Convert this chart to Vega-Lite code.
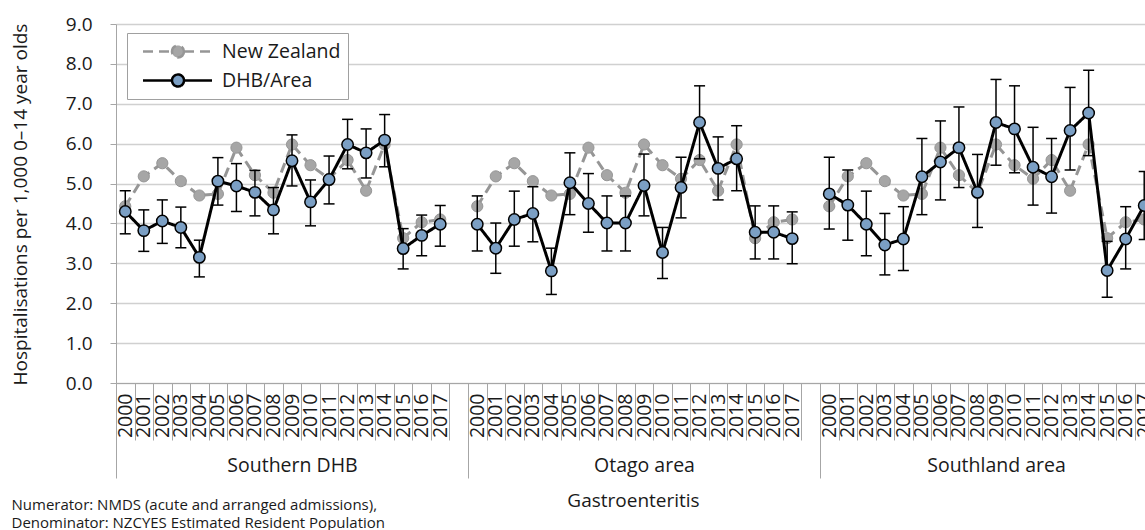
{
  "$schema": "https://vega.github.io/schema/vega-lite/v6.json",
  "autosize": {"type": "none"},
  "padding": {"left": 116, "top": 24, "right": 0, "bottom": 147},
  "width": 1056,
  "height": 359,
  "config": {
    "font": "Open Sans",
    "view": {"stroke": null},
    "legend": {"labelFontSize": 19.5, "labelColor": "#1a1a1a"}
  },
  "resolve": {"scale": {"x": "independent"}, "axis": {"x": "independent"}},
  "layer": [
    {
      "data": {"values": [{"g": "Southern DHB"}, {"g": "Otago area"}, {"g": "Southland area"}]},
      "mark": {"type": "rule", "opacity": 0},
      "encoding": {
        "x": {
          "field": "g", "type": "nominal", "sort": null,
          "scale": {"type": "band", "domain": ["Southern DHB", "Otago area", "Southland area"], "paddingInner": 0, "paddingOuter": 0},
          "axis": {
            "orient": "bottom", "domain": false, "ticks": true, "tickSize": 95, "tickBand": "extent",
            "tickColor": "#a6a6a6", "tickWidth": 1, "labelAngle": 0, "labelPadding": -22, "labelBaseline": "top",
            "labelFontSize": 19.5, "labelColor": "#1a1a1a", "labelOverlap": false, "labelBound": false,
            "title": ["Numerator: NMDS (acute and arranged admissions),", "Denominator: NZCYES Estimated Resident Population"],
            "titleX": -105, "titleY": 114, "titleAlign": "left", "titleBaseline": "top", "titleFontSize": 15,
            "titleLineHeight": 18, "titleFontWeight": "normal", "titleColor": "#1a1a1a", "titleAnchor": null
          }
        }
      }
    },
    {
      "data": {"values": [
        {"g":"Southern DHB","k":"Southern DHB|2000","New Zealand":4.43,"DHB/Area":4.30,"lo":3.74,"hi":4.82},
        {"g":"Southern DHB","k":"Southern DHB|2001","New Zealand":5.18,"DHB/Area":3.82,"lo":3.30,"hi":4.34},
        {"g":"Southern DHB","k":"Southern DHB|2002","New Zealand":5.51,"DHB/Area":4.06,"lo":3.50,"hi":4.59},
        {"g":"Southern DHB","k":"Southern DHB|2003","New Zealand":5.06,"DHB/Area":3.90,"lo":3.39,"hi":4.41},
        {"g":"Southern DHB","k":"Southern DHB|2004","New Zealand":4.70,"DHB/Area":3.15,"lo":2.66,"hi":3.58},
        {"g":"Southern DHB","k":"Southern DHB|2005","New Zealand":4.74,"DHB/Area":5.06,"lo":4.46,"hi":5.65},
        {"g":"Southern DHB","k":"Southern DHB|2006","New Zealand":5.90,"DHB/Area":4.94,"lo":4.30,"hi":5.50},
        {"g":"Southern DHB","k":"Southern DHB|2007","New Zealand":5.21,"DHB/Area":4.78,"lo":4.19,"hi":5.33},
        {"g":"Southern DHB","k":"Southern DHB|2008","New Zealand":4.77,"DHB/Area":4.34,"lo":3.74,"hi":4.90},
        {"g":"Southern DHB","k":"Southern DHB|2009","New Zealand":5.98,"DHB/Area":5.57,"lo":4.94,"hi":6.22},
        {"g":"Southern DHB","k":"Southern DHB|2010","New Zealand":5.46,"DHB/Area":4.54,"lo":3.94,"hi":5.09},
        {"g":"Southern DHB","k":"Southern DHB|2011","New Zealand":5.12,"DHB/Area":5.10,"lo":4.49,"hi":5.69},
        {"g":"Southern DHB","k":"Southern DHB|2012","New Zealand":5.59,"DHB/Area":5.98,"lo":5.37,"hi":6.61},
        {"g":"Southern DHB","k":"Southern DHB|2013","New Zealand":4.82,"DHB/Area":5.77,"lo":5.14,"hi":6.37},
        {"g":"Southern DHB","k":"Southern DHB|2014","New Zealand":5.98,"DHB/Area":6.09,"lo":5.42,"hi":6.73},
        {"g":"Southern DHB","k":"Southern DHB|2015","New Zealand":3.63,"DHB/Area":3.37,"lo":2.86,"hi":3.87},
        {"g":"Southern DHB","k":"Southern DHB|2016","New Zealand":4.03,"DHB/Area":3.70,"lo":3.19,"hi":4.21},
        {"g":"Southern DHB","k":"Southern DHB|2017","New Zealand":4.10,"DHB/Area":3.98,"lo":3.43,"hi":4.45},
        {"g":"Otago area","k":"Otago area|2000","New Zealand":4.43,"DHB/Area":3.98,"lo":3.31,"hi":4.69},
        {"g":"Otago area","k":"Otago area|2001","New Zealand":5.18,"DHB/Area":3.38,"lo":2.75,"hi":4.01},
        {"g":"Otago area","k":"Otago area|2002","New Zealand":5.51,"DHB/Area":4.10,"lo":3.43,"hi":4.81},
        {"g":"Otago area","k":"Otago area|2003","New Zealand":5.06,"DHB/Area":4.25,"lo":3.54,"hi":4.92},
        {"g":"Otago area","k":"Otago area|2004","New Zealand":4.70,"DHB/Area":2.81,"lo":2.22,"hi":3.38},
        {"g":"Otago area","k":"Otago area|2005","New Zealand":4.74,"DHB/Area":5.02,"lo":4.22,"hi":5.77},
        {"g":"Otago area","k":"Otago area|2006","New Zealand":5.90,"DHB/Area":4.50,"lo":3.78,"hi":5.25},
        {"g":"Otago area","k":"Otago area|2007","New Zealand":5.21,"DHB/Area":4.01,"lo":3.31,"hi":4.69},
        {"g":"Otago area","k":"Otago area|2008","New Zealand":4.77,"DHB/Area":4.01,"lo":3.31,"hi":4.69},
        {"g":"Otago area","k":"Otago area|2009","New Zealand":5.98,"DHB/Area":4.95,"lo":4.19,"hi":5.74},
        {"g":"Otago area","k":"Otago area|2010","New Zealand":5.46,"DHB/Area":3.27,"lo":2.62,"hi":3.90},
        {"g":"Otago area","k":"Otago area|2011","New Zealand":5.12,"DHB/Area":4.90,"lo":4.14,"hi":5.66},
        {"g":"Otago area","k":"Otago area|2012","New Zealand":5.59,"DHB/Area":6.53,"lo":5.62,"hi":7.45},
        {"g":"Otago area","k":"Otago area|2013","New Zealand":4.82,"DHB/Area":5.38,"lo":4.59,"hi":6.17},
        {"g":"Otago area","k":"Otago area|2014","New Zealand":5.98,"DHB/Area":5.62,"lo":4.82,"hi":6.45},
        {"g":"Otago area","k":"Otago area|2015","New Zealand":3.63,"DHB/Area":3.78,"lo":3.11,"hi":4.44},
        {"g":"Otago area","k":"Otago area|2016","New Zealand":4.03,"DHB/Area":3.78,"lo":3.11,"hi":4.44},
        {"g":"Otago area","k":"Otago area|2017","New Zealand":4.10,"DHB/Area":3.62,"lo":2.99,"hi":4.29},
        {"g":"Southland area","k":"Southland area|2000","New Zealand":4.43,"DHB/Area":4.74,"lo":3.86,"hi":5.66},
        {"g":"Southland area","k":"Southland area|2001","New Zealand":5.18,"DHB/Area":4.46,"lo":3.58,"hi":5.34},
        {"g":"Southland area","k":"Southland area|2002","New Zealand":5.51,"DHB/Area":3.98,"lo":3.19,"hi":4.81},
        {"g":"Southland area","k":"Southland area|2003","New Zealand":5.06,"DHB/Area":3.46,"lo":2.71,"hi":4.25},
        {"g":"Southland area","k":"Southland area|2004","New Zealand":4.70,"DHB/Area":3.61,"lo":2.82,"hi":4.42},
        {"g":"Southland area","k":"Southland area|2005","New Zealand":4.74,"DHB/Area":5.17,"lo":4.22,"hi":6.13},
        {"g":"Southland area","k":"Southland area|2006","New Zealand":5.90,"DHB/Area":5.54,"lo":4.59,"hi":6.57},
        {"g":"Southland area","k":"Southland area|2007","New Zealand":5.21,"DHB/Area":5.90,"lo":4.90,"hi":6.92},
        {"g":"Southland area","k":"Southland area|2008","New Zealand":4.77,"DHB/Area":4.78,"lo":3.90,"hi":5.73},
        {"g":"Southland area","k":"Southland area|2009","New Zealand":5.98,"DHB/Area":6.53,"lo":5.46,"hi":7.61},
        {"g":"Southland area","k":"Southland area|2010","New Zealand":5.46,"DHB/Area":6.37,"lo":5.27,"hi":7.45},
        {"g":"Southland area","k":"Southland area|2011","New Zealand":5.12,"DHB/Area":5.41,"lo":4.46,"hi":6.41},
        {"g":"Southland area","k":"Southland area|2012","New Zealand":5.59,"DHB/Area":5.17,"lo":4.26,"hi":6.13},
        {"g":"Southland area","k":"Southland area|2013","New Zealand":4.82,"DHB/Area":6.33,"lo":5.34,"hi":7.41},
        {"g":"Southland area","k":"Southland area|2014","New Zealand":5.98,"DHB/Area":6.77,"lo":5.70,"hi":7.84},
        {"g":"Southland area","k":"Southland area|2015","New Zealand":3.63,"DHB/Area":2.82,"lo":2.15,"hi":3.55},
        {"g":"Southland area","k":"Southland area|2016","New Zealand":4.03,"DHB/Area":3.61,"lo":2.86,"hi":4.42},
        {"g":"Southland area","k":"Southland area|2017","New Zealand":4.10,"DHB/Area":4.45,"lo":3.60,"hi":5.30}
      ]},
      "transform": [{"fold": ["New Zealand", "DHB/Area"], "as": ["series", "value"]}],
      "encoding": {
        "x": {
          "field": "k", "type": "nominal", "sort": null,
          "scale": {"type": "band", "paddingInner": 0, "paddingOuter": 0, "domain": [
            "Southern DHB|2000","Southern DHB|2001","Southern DHB|2002","Southern DHB|2003","Southern DHB|2004","Southern DHB|2005","Southern DHB|2006","Southern DHB|2007","Southern DHB|2008","Southern DHB|2009","Southern DHB|2010","Southern DHB|2011","Southern DHB|2012","Southern DHB|2013","Southern DHB|2014","Southern DHB|2015","Southern DHB|2016","Southern DHB|2017","Southern DHB|",
            "Otago area|2000","Otago area|2001","Otago area|2002","Otago area|2003","Otago area|2004","Otago area|2005","Otago area|2006","Otago area|2007","Otago area|2008","Otago area|2009","Otago area|2010","Otago area|2011","Otago area|2012","Otago area|2013","Otago area|2014","Otago area|2015","Otago area|2016","Otago area|2017","Otago area|",
            "Southland area|2000","Southland area|2001","Southland area|2002","Southland area|2003","Southland area|2004","Southland area|2005","Southland area|2006","Southland area|2007","Southland area|2008","Southland area|2009","Southland area|2010","Southland area|2011","Southland area|2012","Southland area|2013","Southland area|2014","Southland area|2015","Southland area|2016","Southland area|2017","Southland area|"
          ]},
          "axis": {
            "orient": "bottom", "labelExpr": "split(datum.value, '|')[1]",
            "domainColor": "#a6a6a6", "tickColor": "#a6a6a6", "tickSize": 57, "tickBand": "extent",
            "labelAngle": 270, "labelAlign": "right", "labelBaseline": "middle", "labelPadding": -47,
            "labelFontSize": 19.5, "labelColor": "#1a1a1a", "labelOverlap": false, "labelBound": false,
            "title": "Gastroenteritis", "titleX": 517, "titleY": 117, "titleAlign": "center", "titleBaseline": "middle",
            "titleFontSize": 19, "titleFontWeight": "normal", "titleColor": "#1a1a1a", "titleAnchor": null
          }
        },
        "y": {
          "field": "value", "type": "quantitative",
          "scale": {"domain": [0, 9], "nice": false, "zero": true},
          "axis": {
            "values": [0,1,2,3,4,5,6,7,8,9], "format": ".1f", "grid": true, "gridColor": "#d0d0d0", "gridWidth": 1.3,
            "domainColor": "#a6a6a6", "tickColor": "#a6a6a6", "tickSize": 6, "labelPadding": 18,
            "labelFontSize": 19, "labelColor": "#1a1a1a",
            "title": "Hospitalisations per 1,000 0–14 year olds", "titleX": -96, "titleY": 180, "titleAngle": 270,
            "titleAlign": "center", "titleBaseline": "middle", "titleFontSize": 19, "titleFontWeight": "normal",
            "titleColor": "#1a1a1a", "titleAnchor": null
          }
        }
      },
      "layer": [
        {
          "transform": [{"filter": "datum.series === 'New Zealand'"}],
          "mark": {"type": "line", "strokeWidth": 3},
          "encoding": {
            "detail": {"field": "g"},
            "stroke": {"field": "series", "type": "nominal",
              "scale": {"domain": ["New Zealand", "DHB/Area"], "range": ["#969696", "#000000"]},
              "legend": {"title": null, "orient": "none", "legendX": 11, "legendY": 9, "padding": 7, "strokeColor": "#a0a0a0", "fillColor": "white", "rowPadding": 6, "symbolSize": 400, "symbolStrokeWidth": 2.5, "labelOffset": 65, "symbolType": "M-0.25,0H2.65M3.85,0H6.65M3.85,0A0.6,0.6,0,1,1,2.65,0A0.6,0.6,0,1,1,3.85,0Z"}},
            "strokeDash": {"field": "series", "type": "nominal",
              "scale": {"domain": ["New Zealand", "DHB/Area"], "range": [[10, 6], [1, 0]]},
              "legend": {"title": null, "orient": "none", "legendX": 11, "legendY": 9, "padding": 7, "strokeColor": "#a0a0a0", "fillColor": "white", "rowPadding": 6, "symbolSize": 400, "symbolStrokeWidth": 2.5, "labelOffset": 65, "symbolType": "M-0.25,0H2.65M3.85,0H6.65M3.85,0A0.6,0.6,0,1,1,2.65,0A0.6,0.6,0,1,1,3.85,0Z"}}
          }
        },
        {
          "transform": [{"filter": "datum.series === 'New Zealand'"}],
          "mark": {"type": "point", "filled": true, "opacity": 1, "size": 125, "strokeWidth": 1},
          "encoding": {
            "fill": {"field": "series", "type": "nominal",
              "scale": {"domain": ["New Zealand", "DHB/Area"], "range": ["#a6a6a6", "#7b9fc4"]},
              "legend": {"title": null, "orient": "none", "legendX": 11, "legendY": 9, "padding": 7, "strokeColor": "#a0a0a0", "fillColor": "white", "rowPadding": 6, "symbolSize": 400, "symbolStrokeWidth": 2.5, "labelOffset": 65, "symbolType": "M-0.25,0H2.65M3.85,0H6.65M3.85,0A0.6,0.6,0,1,1,2.65,0A0.6,0.6,0,1,1,3.85,0Z"}},
            "stroke": {"field": "series", "type": "nominal"}
          }
        },
        {
          "transform": [{"filter": "datum.series === 'DHB/Area'"}],
          "mark": {"type": "rule", "color": "#000000", "strokeWidth": 1.5},
          "encoding": {"y": {"field": "lo", "type": "quantitative"}, "y2": {"field": "hi"}}
        },
        {
          "transform": [{"filter": "datum.series === 'DHB/Area'"}],
          "mark": {"type": "tick", "color": "#000000", "size": 11, "thickness": 1.5, "opacity": 1},
          "encoding": {"y": {"field": "lo", "type": "quantitative"}}
        },
        {
          "transform": [{"filter": "datum.series === 'DHB/Area'"}],
          "mark": {"type": "tick", "color": "#000000", "size": 11, "thickness": 1.5, "opacity": 1},
          "encoding": {"y": {"field": "hi", "type": "quantitative"}}
        },
        {
          "transform": [{"filter": "datum.series === 'DHB/Area'"}],
          "mark": {"type": "line", "strokeWidth": 3},
          "encoding": {
            "detail": {"field": "g"},
            "stroke": {"field": "series", "type": "nominal"},
            "strokeDash": {"field": "series", "type": "nominal"}
          }
        },
        {
          "transform": [{"filter": "datum.series === 'DHB/Area'"}],
          "mark": {"type": "point", "filled": true, "opacity": 1, "size": 130, "strokeWidth": 1.5},
          "encoding": {
            "fill": {"field": "series", "type": "nominal"},
            "stroke": {"field": "series", "type": "nominal"}
          }
        }
      ]
    }
  ]
}
